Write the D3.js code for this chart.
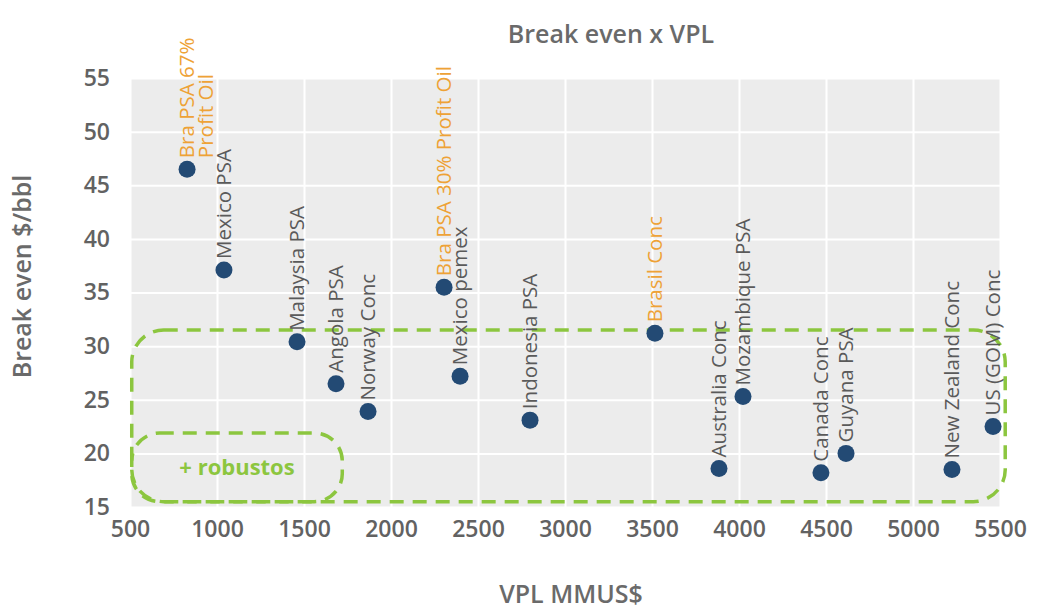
<!DOCTYPE html>
<html>
<head>
<meta charset="utf-8">
<script src="https://cdn.jsdelivr.net/npm/d3@7"></script>
<style>
  body { margin: 0; background: #fff; }
  text { font-family: "Open Sans", "Noto Sans", sans-serif; }
</style>
</head>
<body>
<div id="chart"></div>
<script>
// values
const projects = ["Bra PSA 67%|Profit Oil", "Mexico PSA", "Malaysia PSA", "Angola PSA", "Norway Conc",
  "Bra PSA 30% Profit Oil", "Mexico pemex", "Indonesia PSA", "Brasil Conc", "Australia Conc",
  "Mozambique PSA", "Canada Conc", "Guyana PSA", "New Zealand Conc", "US (GOM) Conc"];
const vpl = [828, 1040, 1460, 1684, 1868, 2305, 2397, 2799, 3517, 3885, 4023, 4471, 4615, 5224, 5460];
const breakEven = [46.5, 37.1, 30.4, 26.5, 23.9, 35.5, 27.2, 23.1, 31.2, 18.6, 25.3, 18.2, 20.0, 18.5, 22.5];
const brazil = [true, false, false, false, false, true, false, false, true, false, false, false, false, false, false];

const xTicks = [500, 1000, 1500, 2000, 2500, 3000, 3500, 4000, 4500, 5000, 5500];
const yTicks = [15, 20, 25, 30, 35, 40, 45, 50, 55];

// the two dashed "robust" zones, in data units [x0, x1, y0, y1]
const zoneAll = [510, 5530, 15.5, 31.5];
const zoneRobust = [510, 1720, 15.5, 21.9];

const W = 1047, H = 615;
const m = { top: 78, right: 47, bottom: 108, left: 130 };
const iw = W - m.left - m.right, ih = H - m.top - m.bottom;

const svg = d3.select("#chart").append("svg").attr("width", W).attr("height", H);
const g = svg.append("g").attr("transform", `translate(${m.left},${m.top})`);

const x = d3.scaleLinear().domain([500, 5500]).range([0, iw]);
const y = d3.scaleLinear().domain([15, 55]).range([ih, 0]);

// grey panel + white grid (ggplot look)
g.append("rect").attr("width", iw).attr("height", ih).attr("fill", "#ececec");

g.append("g").attr("transform", `translate(0,${ih})`)
  .call(d3.axisBottom(x).tickValues(xTicks).tickSize(-ih).tickFormat(""))
  .call(a => a.select(".domain").remove())
  .call(a => a.selectAll("line").attr("stroke", "#fff").attr("stroke-width", 2));
g.append("g")
  .call(d3.axisLeft(y).tickValues(yTicks).tickSize(-iw).tickFormat(""))
  .call(a => a.select(".domain").remove())
  .call(a => a.selectAll("line").attr("stroke", "#fff").attr("stroke-width", 2));

// tick labels
const tickCol = "#626262";
g.append("g").attr("transform", `translate(0,${ih})`)
  .call(d3.axisBottom(x).tickValues(xTicks).tickSize(0).tickPadding(14).tickFormat(d3.format("d")))
  .call(a => a.select(".domain").remove())
  .call(a => a.selectAll("text").attr("font-size", 23).attr("font-weight", 600).attr("fill", tickCol)
    .style("font-family", '"Open Sans", sans-serif'));
g.append("g")
  .call(d3.axisLeft(y).tickValues(yTicks).tickSize(0).tickPadding(20))
  .call(a => a.select(".domain").remove())
  .call(a => a.selectAll("text").attr("font-size", 23).attr("font-weight", 600).attr("fill", tickCol)
    .style("font-family", '"Open Sans", sans-serif'));

// dashed zones
const green = "#8cc63f";
[[zoneAll, 32], [zoneRobust, 28]].forEach(([z, r]) => {
  g.append("rect")
    .attr("x", x(z[0])).attr("y", y(z[3]))
    .attr("width", x(z[1]) - x(z[0])).attr("height", y(z[2]) - y(z[3]))
    .attr("rx", r).attr("ry", r)
    .attr("fill", "none").attr("stroke", green).attr("stroke-width", 3.5)
    .attr("stroke-dasharray", "14 9");
});
g.append("text")
  .attr("x", x((zoneRobust[0] + zoneRobust[1]) / 2))
  .attr("y", y((zoneRobust[2] + zoneRobust[3]) / 2))
  .attr("dy", "0.35em").attr("text-anchor", "middle")
  .attr("font-size", 22).attr("font-weight", 700).attr("fill", green)
  .text("+ robustos");

// points
const pts = projects.map((p, i) => ({ lines: p.split("|"), vpl: vpl[i], be: breakEven[i], bra: brazil[i] }));

g.selectAll("circle.pt").data(pts).join("circle")
  .attr("class", "pt")
  .attr("cx", d => x(d.vpl)).attr("cy", d => y(d.be))
  .attr("r", 8.5).attr("fill", "#234a74");

// rotated labels going up from each dot
const lbl = g.selectAll("text.lbl").data(pts).join("text")
  .attr("class", "lbl")
  .attr("transform", d => `translate(${x(d.vpl)},${y(d.be) - 11}) rotate(-90)`)
  .attr("text-anchor", "start")
  .attr("font-size", 20.5)
  .attr("fill", d => d.bra ? "#eea236" : "#5a5a5a");
lbl.selectAll("tspan").data(d => d.lines).join("tspan")
  .attr("x", 0)
  .attr("dy", (t, j) => j === 0 ? "0.35em" : "0.9em")
  .text(t => t);

// titles
svg.append("text").attr("x", 611).attr("y", 43).attr("text-anchor", "middle")
  .attr("font-size", 25).attr("font-weight", 600).attr("fill", "#6a6a6a")
  .text("Break even x VPL");
svg.append("text").attr("x", 571).attr("y", 603).attr("text-anchor", "middle")
  .attr("font-size", 25).attr("font-weight", 600).attr("fill", "#6a6a6a")
  .text("VPL MMUS$");
svg.append("text")
  .attr("transform", `translate(31,${m.top + ih / 2 - 16}) rotate(-90)`)
  .attr("text-anchor", "middle")
  .attr("font-size", 25).attr("font-weight", 600).attr("fill", "#6a6a6a")
  .text("Break even $/bbl");
</script>
</body>
</html>
